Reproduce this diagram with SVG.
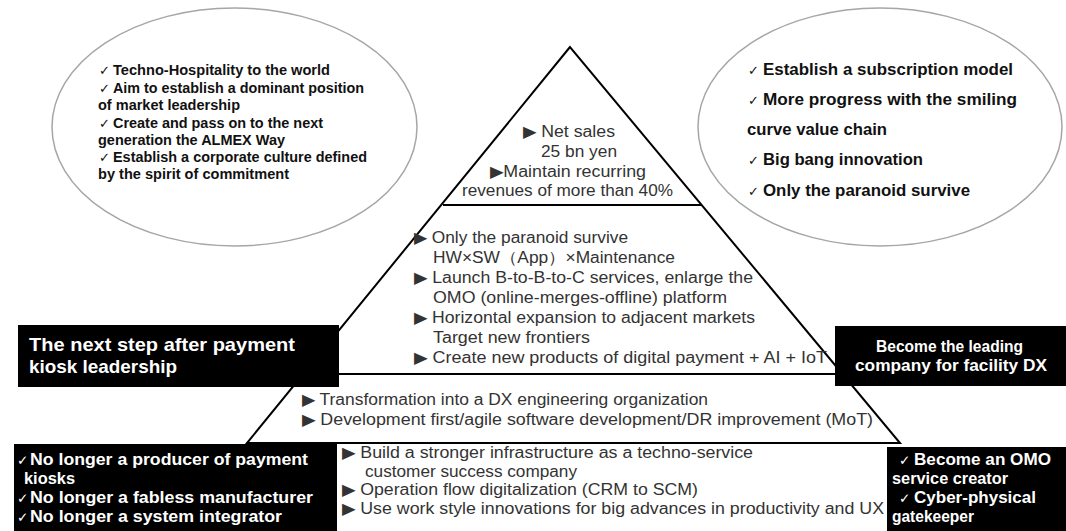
<svg xmlns="http://www.w3.org/2000/svg" width="1066" height="531" viewBox="0 0 1066 531">
<style>
.ell{fill:#fff;stroke:#a6a6a6;stroke-width:1.5}
.et{font-family:"Liberation Sans",Arial,sans-serif;font-weight:700;fill:#111}
.ck{font-family:"DejaVu Sans",sans-serif;font-weight:400}
.ckb{fill:#111;font-size:13px}
.ckw{fill:#fff;font-size:13.5px}
.pt{font-family:"Liberation Sans",Arial,sans-serif;font-weight:400;fill:#333;font-size:16px}
.blk{fill:#000}
.wt{font-family:"Liberation Sans",Arial,sans-serif;font-weight:700;fill:#fff}
.ln{stroke:#000;stroke-width:2;fill:none}
</style>
<rect width="1066" height="531" fill="#fff"/>
<g id="ellipse-left">
<ellipse class="ell" cx="234.5" cy="127" rx="182.5" ry="119"/>
<text class="ck ckb" x="99" y="75">✓</text>
<text class="et" font-size="14.5" x="113" y="75" textLength="217" lengthAdjust="spacingAndGlyphs">Techno-Hospitality to the world</text>
<text class="ck ckb" x="99" y="92.5">✓</text>
<text class="et" font-size="14.5" x="113" y="92.5" textLength="251" lengthAdjust="spacingAndGlyphs">Aim to establish a dominant position</text>
<text class="et" font-size="14.5" x="98" y="110" textLength="142" lengthAdjust="spacingAndGlyphs">of market leadership</text>
<text class="ck ckb" x="99" y="127.5">✓</text>
<text class="et" font-size="14.5" x="113" y="127.5" textLength="210" lengthAdjust="spacingAndGlyphs">Create and pass on to the next</text>
<text class="et" font-size="14.5" x="98" y="144.5" textLength="187" lengthAdjust="spacingAndGlyphs">generation the ALMEX Way</text>
<text class="ck ckb" x="99" y="162">✓</text>
<text class="et" font-size="14.5" x="113" y="162" textLength="254" lengthAdjust="spacingAndGlyphs">Establish a corporate culture defined</text>
<text class="et" font-size="14.5" x="98" y="179" textLength="191" lengthAdjust="spacingAndGlyphs">by the spirit of commitment</text>
</g>
<g id="ellipse-right">
<ellipse class="ell" cx="880" cy="127" rx="182" ry="119"/>
<text class="ck ckb" x="748" y="75" font-size="14">✓</text>
<text class="et" font-size="17" x="763" y="75" textLength="250" lengthAdjust="spacingAndGlyphs">Establish a subscription model</text>
<text class="ck ckb" x="748" y="105" font-size="14">✓</text>
<text class="et" font-size="17" x="763" y="105" textLength="254" lengthAdjust="spacingAndGlyphs">More progress with the smiling</text>
<text class="et" font-size="17" x="747" y="135" textLength="140" lengthAdjust="spacingAndGlyphs">curve value chain</text>
<text class="ck ckb" x="748" y="165" font-size="14">✓</text>
<text class="et" font-size="17" x="763" y="165" textLength="160" lengthAdjust="spacingAndGlyphs">Big bang innovation</text>
<text class="ck ckb" x="748" y="196" font-size="14">✓</text>
<text class="et" font-size="17" x="763" y="196" textLength="207" lengthAdjust="spacingAndGlyphs">Only the paranoid survive</text>
</g>
<g id="pyramid">
<polygon class="ln" points="570,47 247,443 900,443" fill="#fff"/>
<line class="ln" x1="443" y1="205" x2="702" y2="205"/>
<line class="ln" x1="303" y1="374" x2="841" y2="374"/>
<line class="ln" x1="247" y1="443" x2="900" y2="443"/>
<g id="pyramid-top">
<text class="pt" x="523" y="137" textLength="92" lengthAdjust="spacingAndGlyphs">▶ Net sales</text>
<text class="pt" x="541" y="157" textLength="76" lengthAdjust="spacingAndGlyphs">25 bn yen</text>
<text class="pt" x="490" y="177" textLength="156" lengthAdjust="spacingAndGlyphs">▶Maintain recurring</text>
<text class="pt" x="462" y="196" textLength="211" lengthAdjust="spacingAndGlyphs">revenues of more than 40%</text>
</g>
<g id="pyramid-middle">
<text class="pt" x="414" y="243" textLength="214" lengthAdjust="spacingAndGlyphs">▶ Only the paranoid survive</text>
<text class="pt" x="433" y="263" textLength="242" lengthAdjust="spacingAndGlyphs">HW×SW（App）×Maintenance</text>
<text class="pt" x="414" y="283" textLength="339" lengthAdjust="spacingAndGlyphs">▶ Launch B-to-B-to-C services, enlarge the</text>
<text class="pt" x="433" y="303" textLength="294" lengthAdjust="spacingAndGlyphs">OMO (online-merges-offline) platform</text>
<text class="pt" x="414" y="323" textLength="341" lengthAdjust="spacingAndGlyphs">▶ Horizontal expansion to adjacent markets</text>
<text class="pt" x="433" y="343" textLength="157" lengthAdjust="spacingAndGlyphs">Target new frontiers</text>
<text class="pt" x="414" y="363" textLength="413" lengthAdjust="spacingAndGlyphs">▶ Create new products of digital payment + AI + IoT</text>
</g>
<g id="pyramid-lower">
<text class="pt" x="302" y="405" textLength="406" lengthAdjust="spacingAndGlyphs">▶ Transformation into a DX engineering organization</text>
<text class="pt" x="302" y="425" textLength="571" lengthAdjust="spacingAndGlyphs">▶ Development first/agile software development/DR improvement (MoT)</text>
</g>
<g id="pyramid-base">
<text class="pt" x="342" y="458" textLength="411" lengthAdjust="spacingAndGlyphs">▶ Build a stronger infrastructure as a techno-service</text>
<text class="pt" x="365" y="476.5" textLength="212" lengthAdjust="spacingAndGlyphs">customer success company</text>
<text class="pt" x="342" y="495" textLength="356" lengthAdjust="spacingAndGlyphs">▶ Operation flow digitalization (CRM to SCM)</text>
<text class="pt" x="342" y="514" textLength="542" lengthAdjust="spacingAndGlyphs">▶ Use work style innovations for big advances in productivity and UX</text>
</g>
</g>
<g id="box-left-mid">
<rect class="blk" x="18" y="325" width="321" height="62"/>
<text class="wt" font-size="19" x="29" y="351" textLength="266" lengthAdjust="spacingAndGlyphs">The next step after payment</text>
<text class="wt" font-size="19" x="29" y="373" textLength="148" lengthAdjust="spacingAndGlyphs">kiosk leadership</text>
</g>
<g id="box-right-mid">
<rect class="blk" x="835" y="326" width="231" height="60"/>
<text class="wt" font-size="16.5" x="876" y="352" textLength="147" lengthAdjust="spacingAndGlyphs">Become the leading</text>
<text class="wt" font-size="16.5" x="855" y="371" textLength="192" lengthAdjust="spacingAndGlyphs">company for facility DX</text>
</g>
<g id="box-left-bottom">
<rect class="blk" x="14" y="444" width="323" height="87"/>
<text class="ck ckw" x="17" y="465">✓</text>
<text class="wt" font-size="16.5" x="30" y="465" textLength="278" lengthAdjust="spacingAndGlyphs">No longer a producer of payment</text>
<text class="wt" font-size="16.5" x="24" y="483.5" textLength="51" lengthAdjust="spacingAndGlyphs">kiosks</text>
<text class="ck ckw" x="17" y="503">✓</text>
<text class="wt" font-size="16.5" x="30" y="503" textLength="283" lengthAdjust="spacingAndGlyphs">No longer a fabless manufacturer</text>
<text class="ck ckw" x="17" y="522">✓</text>
<text class="wt" font-size="16.5" x="30" y="522" textLength="252" lengthAdjust="spacingAndGlyphs">No longer a system integrator</text>
</g>
<g id="box-right-bottom">
<rect class="blk" x="887" y="447" width="179" height="84"/>
<text class="ck ckw" x="899" y="465">✓</text>
<text class="wt" font-size="16.5" x="914" y="465" textLength="137" lengthAdjust="spacingAndGlyphs">Become an OMO</text>
<text class="wt" font-size="16.5" x="892" y="484" textLength="116" lengthAdjust="spacingAndGlyphs">service creator</text>
<text class="ck ckw" x="899" y="503">✓</text>
<text class="wt" font-size="16.5" x="914" y="503" textLength="122" lengthAdjust="spacingAndGlyphs">Cyber-physical</text>
<text class="wt" font-size="16.5" x="892" y="522" textLength="82" lengthAdjust="spacingAndGlyphs">gatekeeper</text>
</g>
<g id="connectors"/>
</svg>
